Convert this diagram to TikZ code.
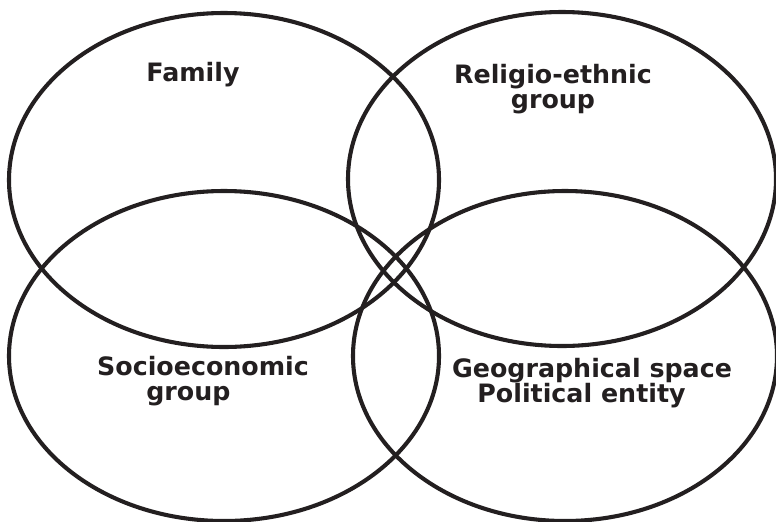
\documentclass[tikz,border=0pt]{standalone}
\usepackage{fontspec}
\setmainfont{DejaVu Sans}
\usepackage{xcolor}
\usepackage{tikz}
\usetikzlibrary{positioning}
\definecolor{inkgray}{HTML}{231F20}

\begin{document}
\begin{tikzpicture}[
    x=0.025cm, y=-0.025cm,
    set/.style={draw=inkgray, line width=2.9pt},
    lbl/.style={font=\bfseries\fontsize{18}{18}\selectfont, text=inkgray, inner sep=0pt}
]
\useasboundingbox (0,0) rectangle (776,521);

\draw[set] (224,180) ellipse [x radius=215, y radius=167];
\draw[set] (562,179) ellipse [x radius=214, y radius=167];
\draw[set] (224,356) ellipse [x radius=215, y radius=165];
\draw[set] (565,356) ellipse [x radius=212, y radius=165];

\node[lbl] (fam) at (193,75) {Family};
\node[lbl, align=center] (rel) at (553,89) {Religio-ethnic\\group};
\node[lbl, align=left] (soc) at (203,381) {Socioeconomic\\\hspace*{35pt}group};
\node[lbl, align=left] (geo) at (592,383) {Geographical space\\\hspace*{18pt}Political entity};
\end{tikzpicture}
\end{document}
